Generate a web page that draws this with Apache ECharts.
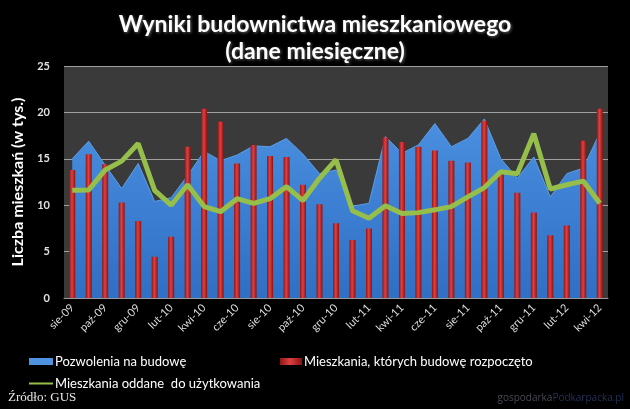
<!DOCTYPE html>
<html>
<head>
<meta charset="utf-8">
<script src="https://cdn.jsdelivr.net/npm/echarts@6/dist/echarts.min.js"></script>
<style>
  html, body { margin: 0; padding: 0; background: #000; }
  #chart { width: 630px; height: 409px; }
</style>
</head>
<body>
<div id="chart"></div>
<script>
// miesiace sie-09 .. kwi-12
let months = ['sie-09', 'wrz-09', 'paź-09', 'lis-09', 'gru-09', 'sty-10', 'lut-10', 'mar-10', 'kwi-10', 'maj-10',
  'cze-10', 'lip-10', 'sie-10', 'wrz-10', 'paź-10', 'lis-10', 'gru-10', 'sty-11', 'lut-11', 'mar-11',
  'kwi-11', 'maj-11', 'cze-11', 'lip-11', 'sie-11', 'wrz-11', 'paź-11', 'lis-11', 'gru-11', 'sty-12',
  'lut-12', 'mar-12', 'kwi-12']

// tys. mieszkan
let pozwolenia = [15.0, 16.9, 14.3, 11.8, 14.5, 10.4, 10.8, 13.2, 15.8, 14.8,
  15.4, 16.4, 16.3, 17.2, 15.5, 13.4, 13.8, 9.9, 10.2, 17.4,
  15.6, 16.5, 18.8, 16.3, 17.2, 19.3, 15.0, 12.9, 15.2, 10.9,
  13.4, 14.0, 17.8]
let rozpoczete = [13.8, 15.5, 14.4, 10.3, 8.3, 4.45, 6.6, 16.3, 20.4, 19.0,
  14.5, 16.5, 15.3, 15.2, 12.2, 10.1, 8.05, 6.25, 7.5, 17.3,
  16.8, 16.3, 15.9, 14.8, 14.6, 19.1, 13.5, 11.35, 9.2, 6.75,
  7.8, 16.95, 20.4]
let oddane = [11.6, 11.65, 13.8, 14.75, 16.65, 11.6, 10.0, 12.2, 9.85, 9.3,
  10.7, 10.2, 10.7, 12.0, 10.5, 12.9, 14.9, 9.4, 8.6, 9.95,
  9.1, 9.2, 9.5, 9.85, 10.9, 11.9, 13.6, 13.4, 17.7, 11.75,
  12.2, 12.6, 10.2]

let legendText = { color: '#fff', fontSize: 13, fontFamily: 'Lato', padding: [0, 0, 0, -3] }

let myChart = echarts.init(document.getElementById('chart'))
let option = {
  backgroundColor: '#000',
  textStyle: { fontFamily: 'Lato' },
  title: {
    text: 'Wyniki budownictwa mieszkaniowego\n(dane miesięczne)',
    left: 'center',
    top: 6,
    textStyle: {
      color: '#fff',
      fontSize: 23,
      fontWeight: 'bold',
      fontFamily: 'Lato',
      lineHeight: 27,
      textShadowColor: 'rgba(120,120,120,0.8)',
      textShadowBlur: 3,
      textShadowOffsetX: 1,
      textShadowOffsetY: 1
    }
  },
  grid: {
    left: 64,
    right: 22,
    top: 66,
    bottom: 111,
    show: true,
    backgroundColor: '#3a3a3a',
    borderWidth: 0
  },
  legend: [{
    left: 24,
    top: 350,
    itemWidth: 24,
    itemHeight: 7,
    data: [{ name: 'Pozwolenia na budowę', icon: 'rect' }],
    textStyle: legendText
  }, {
    left: 275,
    top: 350,
    itemWidth: 22,
    itemHeight: 7,
    data: [{ name: 'Mieszkania, których budowę rozpoczęto', icon: 'rect' }],
    textStyle: legendText
  }, {
    left: 24,
    top: 372,
    itemWidth: 24,
    itemHeight: 2,
    data: [{ name: 'Mieszkania oddane  do użytkowania', icon: 'rect' }],
    textStyle: legendText
  }],
  graphic: [{
    type: 'text',
    left: 8,
    top: 391,
    style: { text: 'Źródło: GUS', fill: '#e8e8e8', font: '13px "Liberation Serif"' }
  }, {
    type: 'text',
    right: 6,
    top: 393,
    style: {
      text: '{a|gospodarka}{b|Podkarpacka.pl}',
      rich: {
        a: { fill: '#4a4a55', font: '10px "Open Sans"' },
        b: { fill: '#243058', font: '10px "Open Sans"' }
      }
    }
  }],
  xAxis: {
    type: 'category',
    data: months,
    boundaryGap: true,
    axisLine: { lineStyle: { color: '#9a9a9a' } },
    axisTick: { show: false },
    axisLabel: {
      interval: 1,
      rotate: 45,
      color: '#dcdcdc',
      fontSize: 11,
      fontFamily: 'Lato',
      margin: 8
    },
    splitLine: { show: false }
  },
  yAxis: {
    type: 'value',
    min: 0,
    max: 25,
    interval: 5,
    name: 'Liczba mieszkań (w tys.)',
    nameLocation: 'middle',
    nameGap: 33,
    nameTextStyle: { color: '#fff', fontSize: 16, fontWeight: 'bold', fontFamily: 'Lato' },
    axisLine: { show: false },
    axisTick: { show: false },
    axisLabel: { color: '#e0e0e0', fontSize: 11, fontWeight: 'bold', margin: 14 },
    splitLine: { lineStyle: { color: '#a0a0a0', width: 1 } }
  },
  series: [{
    name: 'Pozwolenia na budowę',
    type: 'line',
    data: pozwolenia,
    symbol: 'none',
    z: 1,
    lineStyle: { color: '#5a9ee8', width: 1 },
    itemStyle: { color: '#4f93e0' },
    areaStyle: {
      opacity: 1,
      color: new echarts.graphic.LinearGradient(0, 0, 0, 1, [
        { offset: 0, color: '#4a8fe0' },
        { offset: 1, color: '#2f6fc4' }
      ])
    }
  }, {
    name: 'Mieszkania, których budowę rozpoczęto',
    type: 'bar',
    data: rozpoczete,
    barWidth: 6,
    z: 2,
    itemStyle: {
      color: new echarts.graphic.LinearGradient(0, 0, 1, 0, [
        { offset: 0, color: '#8e1616' },
        { offset: 0.45, color: '#e04040' },
        { offset: 1, color: '#8a1212' }
      ])
    }
  }, {
    name: 'Mieszkania oddane  do użytkowania',
    type: 'line',
    data: oddane,
    symbol: 'none',
    z: 3,
    lineStyle: { color: '#95bf4a', width: 5 },
    itemStyle: { color: '#95bf4a' }
  }]
}
myChart.setOption(option)
</script>
</body>
</html>
